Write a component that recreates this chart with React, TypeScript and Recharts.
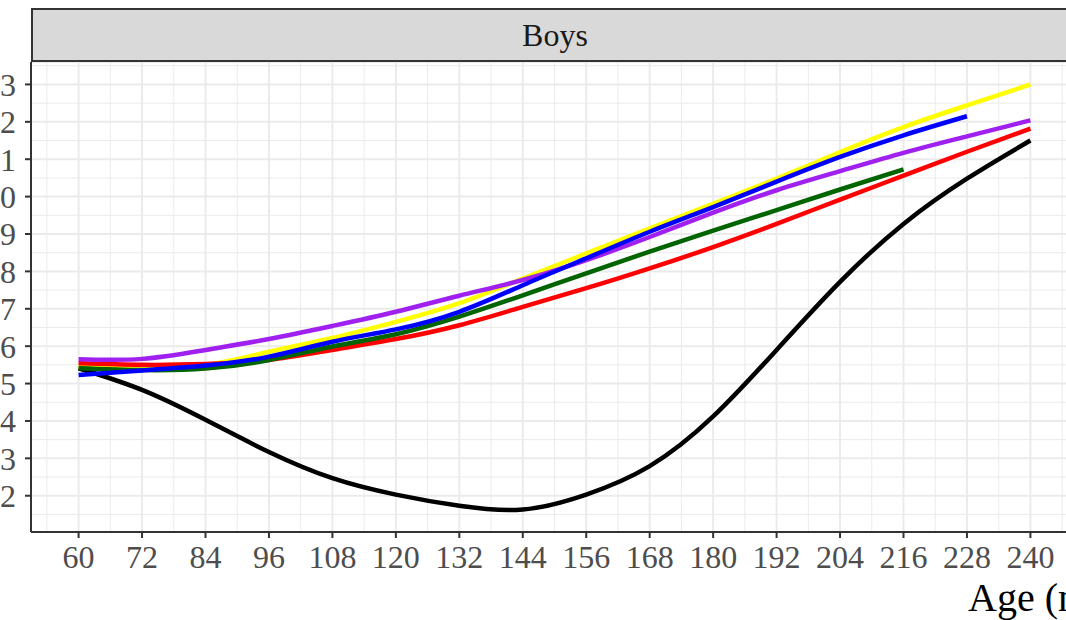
import React from 'react';
import { LineChart, Line, XAxis, YAxis, CartesianGrid } from 'recharts';

// Age in months, one reading every year
const months = [60, 72, 84, 96, 108, 120, 132, 144, 156, 168, 180, 192, 204, 216, 228, 240];

const yellowBmi = [15.45, 15.45, 15.5, 15.85, 16.22, 16.65, 17.15, 17.81, 18.48, 19.15, 19.81, 20.48, 21.19, 21.86, 22.44, 23.0];
const blueBmi = [15.23, 15.35, 15.48, 15.72, 16.12, 16.45, 16.92, 17.63, 18.35, 19.06, 19.72, 20.4, 21.06, 21.64, 22.15, null];
const purpleBmi = [15.65, 15.66, 15.9, 16.19, 16.54, 16.92, 17.35, 17.77, 18.3, 18.92, 19.57, 20.17, 20.68, 21.17, 21.61, 22.04];
const greenBmi = [15.41, 15.36, 15.4, 15.63, 15.99, 16.32, 16.79, 17.36, 17.95, 18.53, 19.09, 19.64, 20.19, 20.73, null, null];
const redBmi = [15.54, 15.5, 15.52, 15.63, 15.9, 16.19, 16.56, 17.05, 17.55, 18.08, 18.65, 19.27, 19.92, 20.56, 21.2, 21.82];
const blackBmi = [15.41, 14.83, 14.03, 13.17, 12.47, 12.03, 11.73, 11.63, 12.03, 12.79, 14.12, 15.9, 17.72, 19.27, 20.48, 21.5];

const xTicks = [60, 72, 84, 96, 108, 120, 132, 144, 156, 168, 180, 192, 204, 216, 228, 240];
const yTicks = [12, 13, 14, 15, 16, 17, 18, 19, 20, 21, 22, 23];
const xMinor = [54, 66, 78, 90, 102, 114, 126, 138, 150, 162, 174, 186, 198, 210, 222, 234, 246];
const yMinor = [11.5, 12.5, 13.5, 14.5, 15.5, 16.5, 17.5, 18.5, 19.5, 20.5, 21.5, 22.5, 23.5];

const chartData = months.map((m, i) => ({
  age: m,
  yellow: yellowBmi[i],
  blue: blueBmi[i],
  purple: purpleBmi[i],
  green: greenBmi[i],
  red: redBmi[i],
  black: blackBmi[i],
}));

const SHIFT = 60; // part of the chart that sits left of the visible frame
const serif = '"Liberation Serif", "Times New Roman", serif';
const tickStyle = { fill: '#4D4D4D', fontSize: 32, fontFamily: serif };

const series = [
  { key: 'black', color: '#000000' },
  { key: 'yellow', color: '#FFFF00' },
  { key: 'red', color: '#FF0000' },
  { key: 'green', color: '#006400' },
  { key: 'purple', color: '#A020F0' },
  { key: 'blue', color: '#0000FF' },
];

export default function App() {
  return (
    <div
      style={{
        position: 'fixed',
        left: 0,
        top: 0,
        width: 1066,
        height: 620,
        overflow: 'hidden',
        background: '#FFFFFF',
        fontFamily: serif,
      }}
    >
      <div style={{ position: 'absolute', left: -SHIFT, top: 0 }}>
        <LineChart
          width={1160}
          height={620}
          data={chartData}
          margin={{ top: 62, right: 22, bottom: 0, left: 0 }}
        >
          <CartesianGrid
            stroke="#EBEBEB"
            strokeWidth={1}
            horizontalValues={yMinor}
            verticalValues={xMinor}
          />
          <CartesianGrid stroke="#EBEBEB" strokeWidth={2} />
          <XAxis
            dataKey="age"
            type="number"
            domain={[51, 249]}
            ticks={xTicks}
            interval={0}
            allowDataOverflow
            tick={tickStyle}
            tickSize={6}
            tickMargin={7}
            height={88}
            axisLine={{ stroke: '#333333', strokeWidth: 2 }}
            tickLine={{ stroke: '#333333', strokeWidth: 2 }}
          />
          <YAxis
            type="number"
            domain={[11.03, 23.6]}
            ticks={yTicks}
            interval={0}
            allowDataOverflow
            tick={tickStyle}
            tickSize={6}
            tickMargin={9}
            width={91}
            axisLine={{ stroke: '#333333', strokeWidth: 2 }}
            tickLine={{ stroke: '#333333', strokeWidth: 2 }}
          />
          {series.map((s) => (
            <Line
              key={s.key}
              dataKey={s.key}
              type="natural"
              stroke={s.color}
              strokeWidth={4.5}
              dot={false}
              activeDot={false}
              connectNulls={false}
              isAnimationActive={false}
            />
          ))}
        </LineChart>
      </div>

      {/* facet strip */}
      <div
        style={{
          position: 'absolute',
          left: 31,
          top: 8,
          width: 1048,
          height: 54,
          boxSizing: 'border-box',
          background: '#D9D9D9',
          border: '2px solid #333333',
          textAlign: 'center',
          lineHeight: '50px',
          fontSize: 32,
          color: '#1A1A1A',
        }}
      >
        Boys
      </div>

      {/* x axis title, cut off by the frame */}
      <div
        style={{
          position: 'absolute',
          left: 968,
          top: 578,
          fontSize: 40,
          lineHeight: '40px',
          color: '#000000',
          whiteSpace: 'nowrap',
        }}
      >
        Age (months)
      </div>
    </div>
  );
}
